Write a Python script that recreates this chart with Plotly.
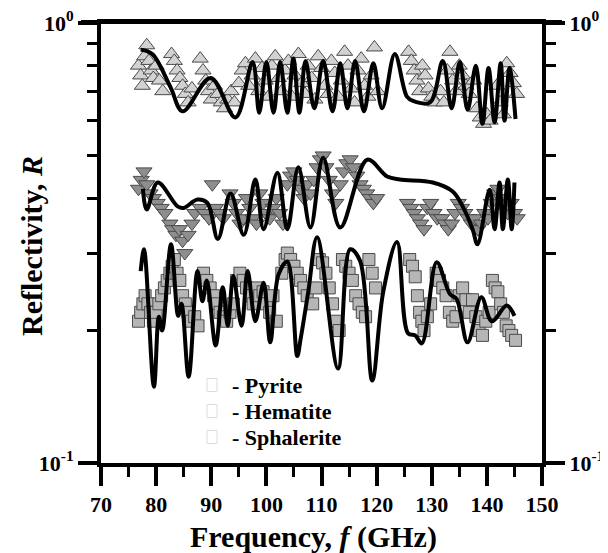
"""Reflectivity spectra of pyrite, hematite and sphalerite (70-150 GHz)."""

import plotly.graph_objects as go

# measured points
pyrite_f = [76.8, 77.2, 77.5, 77.9, 78.3, 78.7, 79.1, 79.5, 80.0, 80.6, 81.2,
            82.8, 83.3, 83.8, 84.3, 84.8, 85.3, 85.8, 86.5,
            88.0, 88.5, 89.0, 89.5, 90.0, 90.6, 91.2, 91.8, 92.4, 93.0, 93.6, 94.2,
            95.0, 95.6, 96.2, 96.8, 97.4, 98.0, 98.6, 99.2, 99.8, 100.4, 101.0, 101.6,
            102.2, 102.8, 103.4, 104.0, 104.6, 105.2, 105.8, 106.4, 107.0, 107.6, 108.2,
            108.8, 109.4, 110.0, 110.6, 111.2, 111.8, 112.4, 113.0, 113.6, 114.2, 114.8,
            115.4, 116.0, 116.6, 117.2, 117.8, 118.4, 119.0, 119.6, 120.2,
            125.8, 126.3, 126.8, 127.3, 127.8, 128.3, 128.8, 129.4, 130.0, 130.6,
            131.6, 132.2, 132.8, 133.3, 133.8, 134.4, 135.0, 135.6, 136.2, 136.8,
            137.6, 138.2, 138.8, 139.4, 140.0, 140.6,
            141.8, 142.4, 143.0, 143.6, 144.2, 144.8, 145.4]
pyrite_r = [0.80, 0.76, 0.72, 0.84, 0.89, 0.82, 0.78, 0.75, 0.80, 0.74, 0.70,
            0.85, 0.82, 0.78, 0.75, 0.72, 0.69, 0.66, 0.71,
            0.83, 0.78, 0.74, 0.70, 0.67, 0.72, 0.69, 0.66, 0.64, 0.67, 0.70, 0.66,
            0.73, 0.78, 0.81, 0.72, 0.76, 0.83, 0.70, 0.79, 0.74, 0.68, 0.80, 0.84,
            0.75, 0.70, 0.78, 0.82, 0.68, 0.76, 0.85, 0.73, 0.69, 0.80, 0.75,
            0.67, 0.84, 0.79, 0.72, 0.69, 0.82, 0.77, 0.68, 0.74, 0.86, 0.80,
            0.71, 0.66, 0.78, 0.83, 0.72, 0.68, 0.76, 0.88, 0.70,
            0.86, 0.82, 0.78, 0.74, 0.70, 0.80, 0.76, 0.71, 0.68, 0.66,
            0.70, 0.66, 0.78, 0.86, 0.74, 0.70, 0.80, 0.76, 0.72, 0.69,
            0.74, 0.64, 0.61, 0.59, 0.62, 0.60,
            0.72, 0.66, 0.62, 0.81, 0.77, 0.73, 0.69]

hematite_f = [76.8, 77.3, 77.8, 78.3, 78.9, 79.5, 80.2, 80.9, 81.6,
              82.5, 83.0, 83.6, 84.2, 84.8, 85.2, 85.8, 86.5, 87.0,
              90.2, 88.0, 88.8, 89.6, 90.8, 91.5, 92.2,
              93.4, 94.0, 94.6, 95.2, 95.8, 96.4, 97.0, 97.6, 98.2,
              98.8, 99.4, 100.0, 100.6, 101.2, 101.8, 102.4, 103.0,
              103.8, 104.4, 105.0, 105.6, 106.2, 106.8, 107.4, 108.0,
              108.6, 109.2, 109.8, 110.3, 110.8, 111.4, 112.0, 112.6,
              113.4, 114.0, 114.6, 115.2, 115.8, 116.4, 117.0, 117.6, 118.2, 118.8, 119.4, 120.0,
              125.6, 126.2, 126.8, 127.4, 128.0, 128.6, 129.2, 129.8, 130.4, 131.0,
              131.8, 132.4, 133.0, 133.6, 134.2,
              134.8, 135.4, 136.0, 136.6, 137.2, 137.8, 138.4, 139.0, 139.6, 140.2,
              140.8, 141.4, 142.0, 142.6, 143.2, 143.8, 144.4, 145.0, 145.5]
hematite_r = [0.42, 0.44, 0.46, 0.43, 0.41, 0.40, 0.39, 0.38, 0.37,
              0.35, 0.34, 0.33, 0.34, 0.32, 0.30, 0.33, 0.35, 0.37,
              0.43, 0.38, 0.37, 0.36, 0.38, 0.37, 0.36,
              0.41, 0.39, 0.37, 0.35, 0.36, 0.40, 0.38, 0.36, 0.35,
              0.41, 0.39, 0.37, 0.36, 0.38, 0.40, 0.37, 0.35,
              0.43, 0.45, 0.46, 0.44, 0.42, 0.40, 0.43, 0.41,
              0.44, 0.47, 0.49, 0.50, 0.47, 0.44, 0.41, 0.39,
              0.43, 0.46, 0.48, 0.49, 0.47, 0.45, 0.43, 0.42, 0.41, 0.40, 0.39, 0.40,
              0.39, 0.38, 0.37, 0.36, 0.35, 0.34, 0.38, 0.39, 0.37, 0.36,
              0.36, 0.35, 0.34, 0.35, 0.37,
              0.39, 0.38, 0.37, 0.36, 0.35, 0.36, 0.34, 0.35, 0.37, 0.36,
              0.39, 0.41, 0.42, 0.40, 0.38, 0.37, 0.39, 0.37, 0.36]

sphalerite_f = [76.8, 77.2, 77.6, 78.0, 78.5, 79.0, 79.5, 80.0,
                80.5, 81.0, 81.5, 82.0, 82.5, 82.9,
                83.3, 83.8, 84.3, 84.8, 85.3, 85.8,
                86.4, 87.0, 87.6,
                88.6, 89.2, 89.8, 90.4, 91.0,
                91.6, 92.2, 92.8, 93.4, 94.0,
                94.6, 95.2, 95.8, 96.4, 97.0, 97.6,
                98.2, 98.8, 99.4, 100.0, 100.6, 101.2, 101.8,
                102.8, 103.4, 103.8, 104.4, 105.0, 105.6, 106.2, 106.8, 107.4,
                108.4, 109.0, 109.6, 110.2, 110.8, 111.4, 112.0, 112.6, 113.2,
                113.8, 114.4, 115.0, 115.6, 116.2, 116.8, 117.4, 118.0, 118.6, 119.2, 119.8,
                126.0, 126.5, 127.0, 127.4, 127.8, 128.2, 128.6, 129.2, 129.8,
                130.8, 131.4, 132.0, 132.6, 133.2,
                133.8, 134.4, 135.0, 135.6, 136.2, 136.8, 137.4, 138.0, 138.6, 139.2, 139.8, 140.4,
                141.0, 141.5, 142.0, 142.5, 143.0, 143.5, 144.0, 144.5, 145.2]
sphalerite_r = [0.21, 0.22, 0.23, 0.24, 0.23, 0.22, 0.21, 0.22,
                0.23, 0.24, 0.25, 0.26, 0.27, 0.28,
                0.29, 0.27, 0.26, 0.24, 0.23, 0.22,
                0.21, 0.215, 0.205,
                0.27, 0.26, 0.25, 0.24, 0.23,
                0.22, 0.215, 0.21, 0.22, 0.23,
                0.26, 0.27, 0.26, 0.25, 0.24, 0.23,
                0.25, 0.24, 0.245, 0.23, 0.22, 0.24, 0.21,
                0.27, 0.29, 0.30, 0.29, 0.28, 0.27, 0.26, 0.25, 0.24,
                0.23, 0.25, 0.29, 0.285, 0.27, 0.25, 0.23, 0.21, 0.20,
                0.29, 0.28, 0.27, 0.26, 0.24, 0.23, 0.22, 0.215, 0.29, 0.27, 0.25,
                0.29, 0.28, 0.265, 0.24, 0.22, 0.21, 0.20, 0.215, 0.23,
                0.27, 0.26, 0.25, 0.24, 0.22,
                0.21, 0.215, 0.24, 0.25, 0.235, 0.22, 0.235, 0.215, 0.20, 0.195, 0.21, 0.22,
                0.26, 0.25, 0.245, 0.23, 0.22, 0.205, 0.20, 0.195, 0.19]

# calculated curves (extrema)
pyrite_fit_f = [77.2, 79.3, 82.6, 84.8, 89.9, 94.4, 97.5, 98.7, 100.0, 101.3, 102.5,
                103.8, 104.9, 106.0, 107.1, 108.7, 110.3, 112.0, 113.4, 114.7, 116.1,
                117.7, 119.4, 121.0, 123.3, 125.5, 126.6, 129.7, 132.0, 133.6, 135.1,
                136.5, 138.0, 139.2, 140.3, 141.4, 142.5, 143.2, 144.1, 145.2]
pyrite_fit_r = [0.87, 0.85, 0.715, 0.63, 0.75, 0.61, 0.815, 0.625, 0.815, 0.625, 0.815,
                0.625, 0.83, 0.625, 0.82, 0.64, 0.82, 0.63, 0.81, 0.64, 0.82,
                0.63, 0.81, 0.64, 0.85, 0.68, 0.665, 0.66, 0.82, 0.64, 0.815,
                0.635, 0.80, 0.59, 0.79, 0.595, 0.81, 0.60, 0.79, 0.605]

hematite_fit_f = [77.6, 78.3, 80.3, 83.9, 85.0, 87.5, 89.3, 91.2, 93.5, 95.9, 98.0,
                  99.5, 102.0, 103.8, 105.8, 108.0, 110.3, 113.4, 118.3, 121.9, 124.2,
                  130.2, 133.8, 135.6, 137.4, 138.3, 140.5, 141.4, 142.3, 142.9, 143.8,
                  144.5, 145.0]
hematite_fit_r = [0.42, 0.377, 0.434, 0.383, 0.38, 0.397, 0.39, 0.323, 0.41, 0.33, 0.441,
                  0.34, 0.457, 0.34, 0.47, 0.343, 0.494, 0.343, 0.489, 0.448, 0.441,
                  0.434, 0.414, 0.383, 0.34, 0.314, 0.418, 0.34, 0.434, 0.34, 0.441,
                  0.34, 0.434]

sphalerite_fit_f = [77.2, 77.8, 79.6, 80.5, 81.1, 82.7, 84.0, 84.6, 85.9, 87.5, 88.4,
                    89.2, 90.8, 92.1, 93.0, 94.0, 95.5, 96.6, 98.0, 99.5, 100.7,
                    102.2, 103.8, 105.6, 106.2, 107.6, 109.2, 113.0, 115.2, 117.0, 119.2,
                    121.2, 123.7, 125.7, 127.0, 128.2, 130.9, 133.3, 134.5, 136.5, 139.0,
                    140.9, 143.6, 145.0]
sphalerite_fit_r = [0.273, 0.306, 0.149, 0.215, 0.20, 0.314, 0.216, 0.23, 0.157, 0.273, 0.233,
                    0.26, 0.185, 0.251, 0.205, 0.266, 0.205, 0.273, 0.21, 0.257, 0.188,
                    0.268, 0.287, 0.175, 0.191, 0.245, 0.326, 0.164, 0.306, 0.288, 0.154,
                    0.245, 0.318, 0.197, 0.195, 0.187, 0.286, 0.242, 0.236, 0.188, 0.238,
                    0.21, 0.228, 0.216]

legend_names = ["- Pyrite", "- Hematite", "- Sphalerite"]
x_ticks = list(range(70, 151, 10))
x_minor = list(range(75, 150, 10))
y_major = [0.1, 1]
y_major_text = ["10<sup>-1</sup>", "10<sup>0</sup>"]
y_minor = [0.2, 0.3, 0.4, 0.5, 0.6, 0.7, 0.8, 0.9]

FONT = "Liberation Serif"
TICKFONT = dict(family=FONT, size=22, color="black", weight="bold")
TITLEFONT = dict(family=FONT, size=30, color="black")

# plot frame in page pixels (the page body adds an 8 px offset)
L, R, T, B = 101, 542, 23, 463
PAGE = 8


def px(x):
    return (x - L) / (R - L)


def py(y):
    return (B - y) / (B - T)


fig = go.Figure()

markers = [
    (pyrite_f, pyrite_r, "triangle-up", "#d2d2d2", 14),
    (hematite_f, hematite_r, "triangle-down", "#8e8e8e", 14),
    (sphalerite_f, sphalerite_r, "square", "#b6b6b6", 12),
]
for xs, ys, sym, col, size in markers:
    fig.add_trace(go.Scatter(
        x=xs, y=ys, mode="markers", showlegend=False,
        marker=dict(symbol=sym, size=size, color=col, line=dict(color="#4a4a4a", width=1)),
    ))

for xs, ys in ((pyrite_fit_f, pyrite_fit_r), (hematite_fit_f, hematite_fit_r),
               (sphalerite_fit_f, sphalerite_fit_r)):
    fig.add_trace(go.Scatter(
        x=xs, y=ys, mode="lines", showlegend=False,
        line=dict(color="black", width=4, shape="spline", smoothing=1.0),
    ))

# dummy trace so the right-hand axis is drawn
fig.add_trace(go.Scatter(x=[None], y=[None], yaxis="y2", showlegend=False))

yax = dict(
    type="log", range=[-1, 0], automargin=False, ticklabeloverflow="allow",
    tickvals=y_major, ticktext=y_major_text,
    ticks="outside", ticklen=19, tickwidth=4, tickcolor="black",
    minor=dict(tickvals=y_minor, ticks="outside", ticklen=10, tickwidth=3, tickcolor="black"),
    showline=True, linewidth=4, linecolor="black", showgrid=False, zeroline=False,
    tickfont=TICKFONT,
)

fig.update_layout(
    width=608, height=553,
    margin=dict(l=L - PAGE, r=608 - (R - PAGE), t=T - PAGE, b=553 - (B - PAGE), autoexpand=False),
    paper_bgcolor="white", plot_bgcolor="white",
    font=dict(family=FONT, color="black"),
    xaxis=dict(
        range=[70, 150], tickvals=x_ticks, automargin=False, ticklabeloverflow="allow",
        ticks="outside", ticklen=19, tickwidth=4, tickcolor="black",
        minor=dict(tickvals=x_minor, ticks="outside", ticklen=10, tickwidth=3, tickcolor="black"),
        showline=True, linewidth=4, linecolor="black", mirror=True,
        showgrid=False, zeroline=False,
        tickfont=TICKFONT,
    ),
    yaxis=yax,
    yaxis2=dict(yax, overlaying="y", side="right"),
)

# top frame line including the outward 10^0 ticks on both sides
fig.add_shape(type="line", xref="paper", yref="paper",
              x0=px(81), x1=px(562), y0=py(22), y1=py(22),
              line=dict(color="black", width=4))

# axis titles
fig.add_annotation(text="<b>Frequency, <i>f</i> (GHz)</b>", xref="paper", yref="paper",
                   x=px(313), y=py(537), xanchor="center", yanchor="middle", showarrow=False,
                   font=TITLEFONT)
fig.add_annotation(text="<b>Reflectivity, <i>R</i></b>", xref="paper", yref="paper",
                   x=px(31), y=py(246), xanchor="center", yanchor="middle",
                   textangle=-90, showarrow=False, font=TITLEFONT)

# legend (light outlined boxes + labels, as in the original)
for i, name in enumerate(legend_names):
    yc = 385 + i * 26
    fig.add_shape(type="rect", xref="paper", yref="paper",
                  x0=px(207), x1=px(217), y0=py(yc + 6.5), y1=py(yc - 6.5),
                  line=dict(color="#dcdcdc", width=1), fillcolor="white")
    fig.add_annotation(text="<b>" + name + "</b>", xref="paper", yref="paper",
                       x=px(230), y=py(yc), xanchor="left", yanchor="middle",
                       showarrow=False, font=dict(family=FONT, size=22, color="black"))

fig.write_html("out.html")
